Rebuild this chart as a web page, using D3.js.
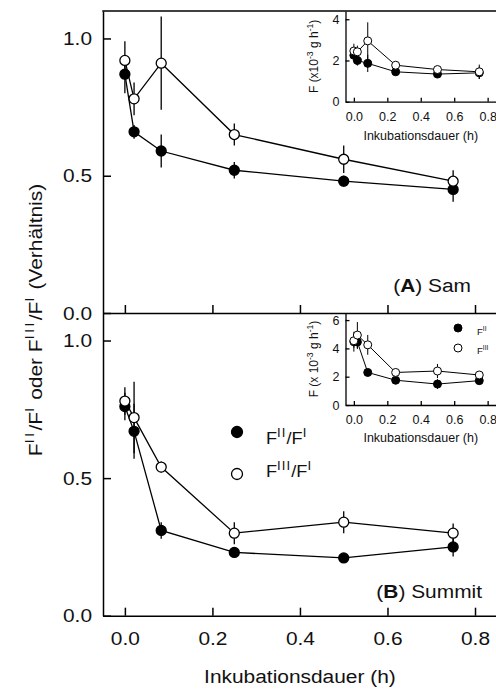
<!DOCTYPE html>
<html><head><meta charset="utf-8">
<script src="https://cdn.jsdelivr.net/npm/d3@7"></script>
<style>
html,body{margin:0;padding:0;background:#fff;}
svg{display:block;}
text{font-family:Arial,"Liberation Sans",Helvetica,sans-serif;fill:#111;}
</style></head><body>
<svg id="chart" width="496" height="695"></svg>
<script>
// Incubation times (h)
const time = [0, 0.021, 0.083, 0.25, 0.5, 0.75];

// (A) Sam — ratios F-II/F-I (filled) and F-III/F-I (open)
const samRatio2    = [0.87, 0.66, 0.59, 0.52, 0.48, 0.45];
const samRatio2Err = [0.07, 0.025, 0.06, 0.03, 0.02, 0.045];
const samRatio3    = [0.92, 0.78, 0.91, 0.65, 0.56, 0.48];
const samRatio3Err = [0.07, 0.06, 0.17, 0.04, 0.05, 0.04];

// (A) Sam — fluxes (x10^-3 g h^-1)
const samF2    = [2.25, 2.0, 1.86, 1.45, 1.34, 1.40];
const samF2Err = [0.3, 0.25, 0.42, 0.1, 0.1, 0.3];
const samF3    = [2.46, 2.42, 2.95, 1.77, 1.56, 1.45];
const samF3Err = [0.35, 0.3, 0.9, 0.1, 0.1, 0.35];

// (B) Summit — ratios
const sumRatio2    = [0.76, 0.67, 0.31, 0.23, 0.21, 0.25];
const sumRatio2Err = [0.05, 0.10, 0.03, 0.02, 0.015, 0.035];
const sumRatio3    = [0.78, 0.72, 0.54, 0.30, 0.34, 0.30];
const sumRatio3Err = [0.05, 0.13, 0.02, 0.04, 0.04, 0.035];

// (B) Summit — fluxes
const sumF2    = [4.47, 4.45, 2.3, 1.75, 1.48, 1.72];
const sumF2Err = [0.7, 0.5, 0.15, 0.15, 0.35, 0.15];
const sumF3    = [4.54, 4.94, 4.25, 2.3, 2.4, 2.12];
const sumF3Err = [0.5, 0.92, 0.7, 0.15, 0.5, 0.15];

// Tick values
const xTicks = [0, 0.2, 0.4, 0.6, 0.8];
const ratioTicks = [0, 0.5, 1.0];
const samFluxTicks = [0, 2, 4];
const sumFluxTicks = [0, 2, 4, 6];

const svg = d3.select("#chart");
const SX = 1.1;           // horizontal glyph widening of main-figure text
const MAIN_FS = 19;

// Main scales
const x = d3.scaleLinear([-0.05, 0.85], [103, 496.9]);
const yA = d3.scaleLinear([0, 1.1], [313, 11]);
const yB = d3.scaleLinear([0, 1.1], [615.7, 313]);

// Inset scales
const xi = d3.scaleLinear([-0.05, 0.85], [345.5, 496]);
const yiA = d3.scaleLinear([0, 4.4], [101.7, 11]);
const yiB = d3.scaleLinear([0, 6.5], [405, 313]);

// Text with optional superscripts / bold runs
function addText(parent, px, py, parts, o) {
  const fs = o.fs;
  const g = parent.append("g")
    .attr("transform", `translate(${px},${py})` + (o.rotate ? ` rotate(${o.rotate})` : ""));
  const t = g.append("text")
    .attr("transform", `scale(${o.sx || 1},1)`)
    .attr("text-anchor", o.anchor || "start")
    .style("font-size", fs + "px");
  const shift = fs * (o.supShift || 0.42);
  let up = false;
  parts.forEach(p => {
    const ts = t.append("tspan").text(p.t);
    if (p.sup) {
      ts.style("font-size", (fs * (o.supScale || 0.7)) + "px");
      if (!up) { ts.attr("dy", -shift); up = true; }
      if (o.supLs) ts.style("letter-spacing", o.supLs + "px");
    } else if (up) { ts.attr("dy", shift); up = false; }
    if (p.bold) ts.style("font-weight", "bold");
  });
  return t;
}

function styleAxis(g, sw) {
  g.selectAll("path.domain").attr("stroke", "#000").attr("stroke-width", sw);
  g.selectAll(".tick line").attr("stroke", "#000").attr("stroke-width", sw);
}

// Frame of the main figure
svg.append("line").attr("x1", 102.25).attr("x2", 497).attr("y1", 11).attr("y2", 11)
  .attr("stroke", "#000").attr("stroke-width", 1.5);

function mainYAxis(y) {
  const g = svg.append("g").attr("transform", "translate(103,0)")
    .call(d3.axisLeft(y).tickValues(ratioTicks).tickFormat(d3.format(".1f"))
      .tickSize(-8).tickSizeOuter(0).tickPadding(10));
  styleAxis(g, 1.5);
  g.selectAll("text").attr("transform", `scale(${SX},1)`)
    .style("font-size", MAIN_FS + "px").style("font-family", null).attr("fill", "#111");
}
mainYAxis(yA);
mainYAxis(yB);

// Divider / x axis of panel A (ticks only)
{
  const g = svg.append("g").attr("transform", `translate(0,${yA(0)})`)
    .call(d3.axisBottom(x).tickValues(xTicks).tickFormat("").tickSize(-8).tickSizeOuter(0));
  styleAxis(g, 1.5);
}
// Bottom x axis of panel B
{
  const g = svg.append("g").attr("transform", `translate(0,${yB(0)})`)
    .call(d3.axisBottom(x).tickValues(xTicks).tickFormat(d3.format(".1f"))
      .tickSize(-8).tickSizeOuter(0).tickPadding(16));
  styleAxis(g, 1.5);
  g.selectAll("text").attr("transform", `scale(${SX},1)`)
    .style("font-size", MAIN_FS + "px").style("font-family", null).attr("fill", "#111");
}

// Series renderer: lines, then error bars, then markers (filled beneath open)
function drawSeries(g, xs, ys, series, r, sw) {
  series.forEach(s => {
    const pts = time.map((t, i) => ({ t, v: s.v[i] }));
    g.append("path").datum(pts)
      .attr("d", d3.line().x(d => xs(d.t)).y(d => ys(d.v)))
      .attr("fill", "none").attr("stroke", "#000").attr("stroke-width", sw);
  });
  series.forEach(s => {
    g.selectAll(null).data(time.map((t, i) => ({ t, v: s.v[i], e: s.e[i] })))
      .join("line")
      .attr("x1", d => xs(d.t)).attr("x2", d => xs(d.t))
      .attr("y1", d => ys(d.v - d.e)).attr("y2", d => ys(d.v + d.e))
      .attr("stroke", "#000").attr("stroke-width", sw);
  });
  series.forEach(s => {
    g.selectAll(null).data(time.map((t, i) => ({ t, v: s.v[i] })))
      .join("circle")
      .attr("cx", d => xs(d.t)).attr("cy", d => ys(d.v)).attr("r", r)
      .attr("fill", s.filled ? "#000" : "#fff")
      .attr("stroke", "#000").attr("stroke-width", sw);
  });
}

drawSeries(svg.append("g"), x, yA, [
  { v: samRatio2, e: samRatio2Err, filled: true },
  { v: samRatio3, e: samRatio3Err, filled: false }
], 5, 1.3);
drawSeries(svg.append("g"), x, yB, [
  { v: sumRatio2, e: sumRatio2Err, filled: true },
  { v: sumRatio3, e: sumRatio3Err, filled: false }
], 5, 1.3);

// Insets
function inset(yi, ticks, f2, f2e, f3, f3e, titleY, yTitleParts, yTitleMid) {
  const g = svg.append("g");
  const ya = g.append("g").attr("transform", `translate(${xi.range()[0]},0)`)
    .call(d3.axisLeft(yi).tickValues(ticks).tickFormat(d3.format("d"))
      .tickSize(-4).tickSizeOuter(0).tickPadding(6));
  styleAxis(ya, 1.3);
  ya.selectAll("text").style("font-size", "12.5px").style("font-family", null).attr("fill", "#111");
  const xa = g.append("g").attr("transform", `translate(0,${yi(0)})`)
    .call(d3.axisBottom(xi).tickValues(xTicks).tickFormat(d3.format(".1f"))
      .tickSize(-4).tickSizeOuter(0).tickPadding(10));
  styleAxis(xa, 1.3);
  xa.selectAll("text").style("font-size", "12.5px").style("font-family", null).attr("fill", "#111");
  addText(g, xi(0.4), titleY, [{ t: "Inkubationsdauer (h)" }], { fs: 12.5, anchor: "middle" });
  addText(g, 318, yTitleMid, yTitleParts, { fs: 12, anchor: "middle", rotate: -90, supScale: 0.72 });
  drawSeries(g, xi, yi, [
    { v: f2, e: f2e, filled: true },
    { v: f3, e: f3e, filled: false }
  ], 4, 1);
  return g;
}

inset(yiA, samFluxTicks, samF2, samF2Err, samF3, samF3Err, 139.5,
  [{ t: "F (x10" }, { t: "-3", sup: true }, { t: " g h" }, { t: "-1", sup: true }, { t: ")" }],
  (yiA.range()[0] + yiA.range()[1]) / 2);
const insB = inset(yiB, sumFluxTicks, sumF2, sumF2Err, sumF3, sumF3Err, 442,
  [{ t: "F (x 10" }, { t: "-3", sup: true }, { t: " g h" }, { t: "-1", sup: true }, { t: ")" }],
  (yiB.range()[0] + yiB.range()[1]) / 2);

// Inset B legend
insB.append("circle").attr("cx", 458).attr("cy", 328).attr("r", 4).attr("fill", "#000").attr("stroke", "#000");
insB.append("circle").attr("cx", 458).attr("cy", 348).attr("r", 4).attr("fill", "#fff").attr("stroke", "#000");
addText(insB, 477, 334.5, [{ t: "F" }, { t: "II", sup: true }], { fs: 9.5 });
addText(insB, 477, 353.5, [{ t: "F" }, { t: "III", sup: true }], { fs: 9.5 });

// Main legend
svg.append("circle").attr("cx", 237).attr("cy", 432).attr("r", 5.5).attr("fill", "#000").attr("stroke", "#000").attr("stroke-width", 1.3);
svg.append("circle").attr("cx", 237).attr("cy", 474).attr("r", 5.5).attr("fill", "#fff").attr("stroke", "#000").attr("stroke-width", 1.3);
addText(svg, 266, 443.5, [{ t: "F" }, { t: "II", sup: true }, { t: "/F" }, { t: "I", sup: true }],
  { fs: 16.5, sx: SX, supScale: 0.72, supLs: 1 });
addText(svg, 266, 477, [{ t: "F" }, { t: "III", sup: true }, { t: "/F" }, { t: "I", sup: true }],
  { fs: 16.5, sx: SX, supScale: 0.72, supLs: 1 });

// Panel labels
addText(svg, 471, 292, [{ t: "(" }, { t: "A", bold: true }, { t: ") Sam" }], { fs: MAIN_FS, sx: SX, anchor: "end" });
addText(svg, 482, 597.5, [{ t: "(" }, { t: "B", bold: true }, { t: ") Summit" }], { fs: MAIN_FS, sx: SX, anchor: "end" });

// Axis titles
addText(svg, x(0.4), 683, [{ t: "Inkubationsdauer (h)" }], { fs: MAIN_FS, sx: SX, anchor: "middle" });
addText(svg, 42, 320, [
  { t: "F" }, { t: "II", sup: true }, { t: "/F" }, { t: "I", sup: true },
  { t: " oder F" }, { t: "III", sup: true }, { t: "/F" }, { t: "I", sup: true },
  { t: " (Verhältnis)" }
], { fs: MAIN_FS, sx: SX, anchor: "middle", rotate: -90, supScale: 0.72, supLs: 2 });
</script>
</body></html>
